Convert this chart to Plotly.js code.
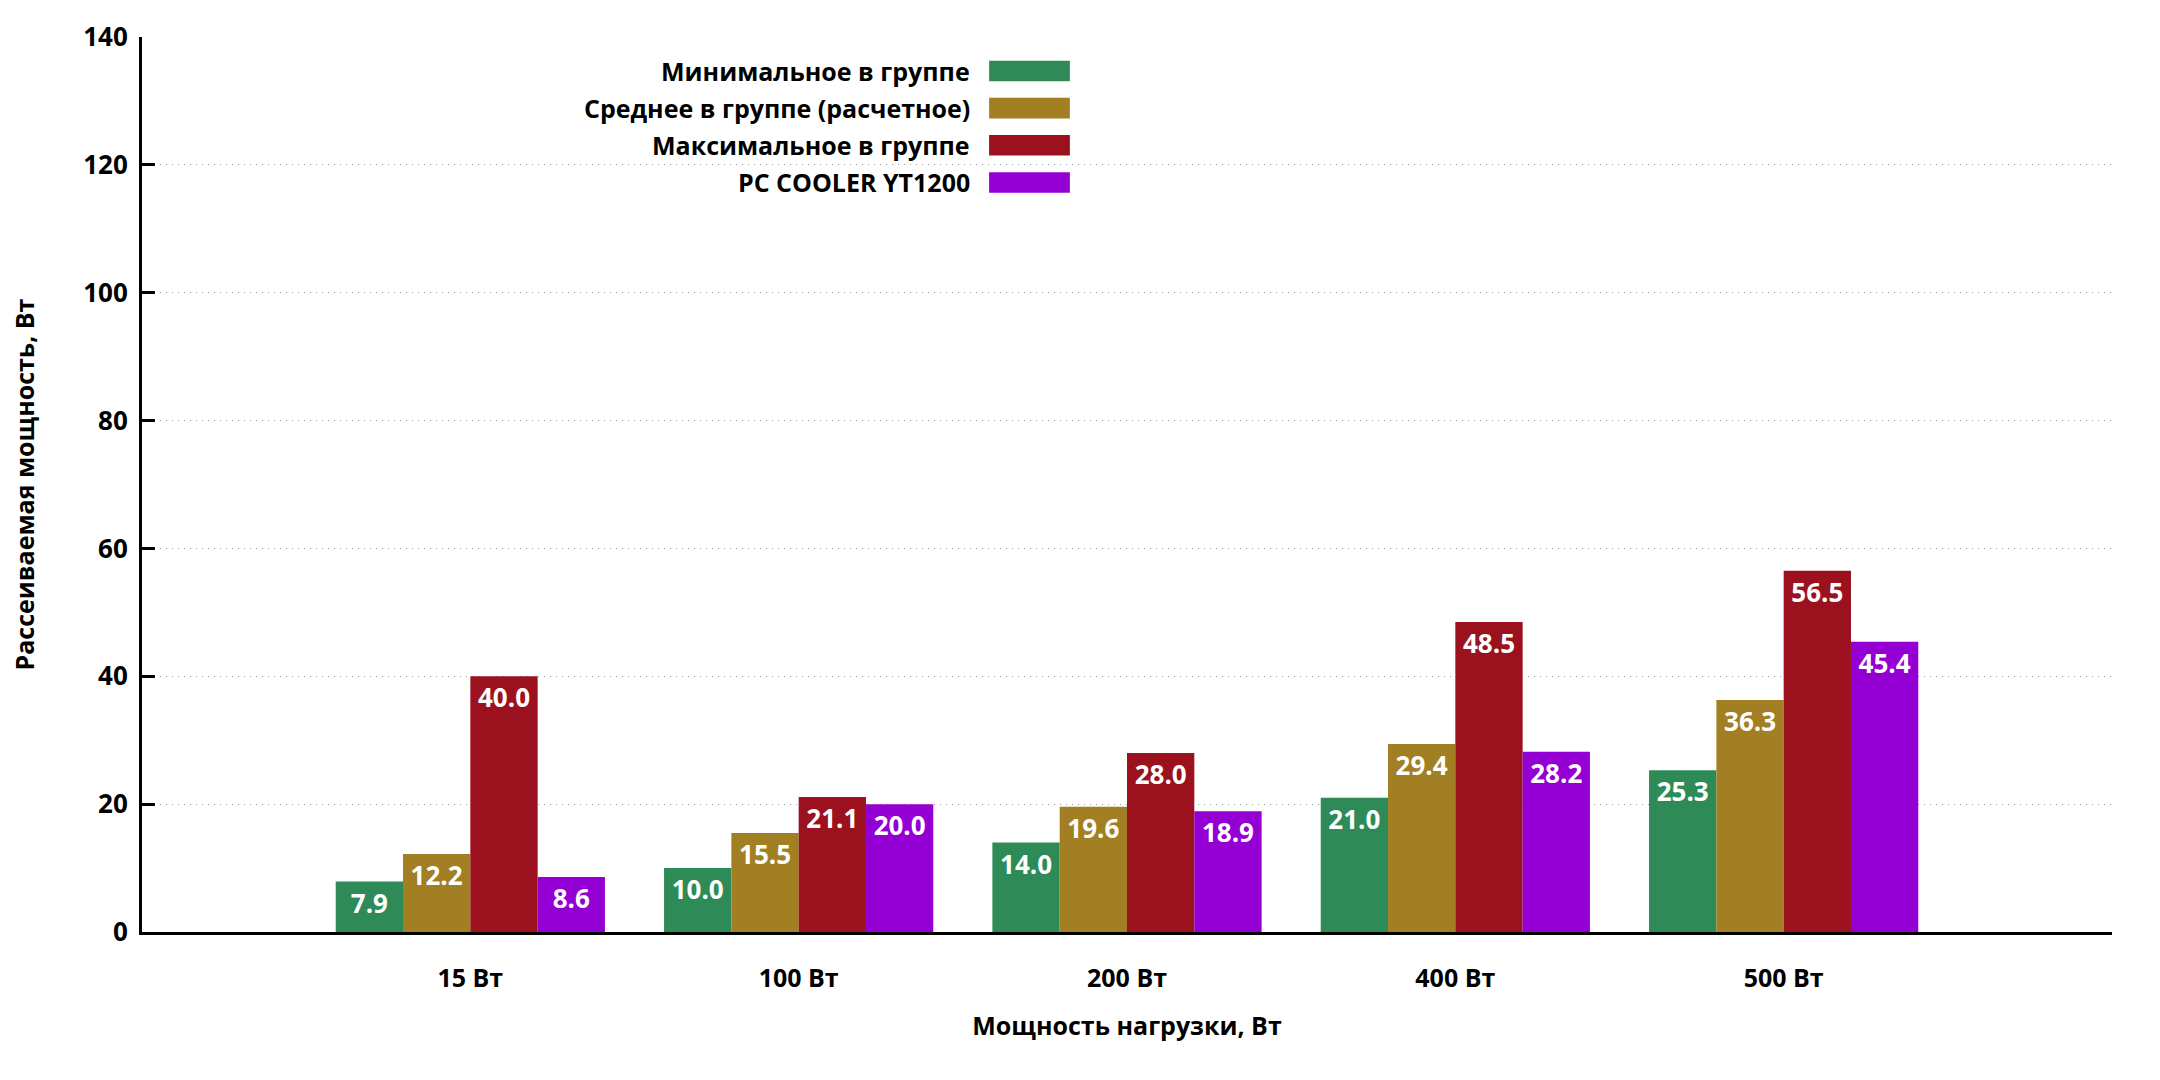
<!DOCTYPE html>
<html>
<head>
<meta charset="utf-8">
<script src="https://cdn.plot.ly/plotly-3.0.1.min.js"></script>
<style>
  html, body { margin: 0; padding: 0; background: #fff; }
  #chart { width: 2160px; height: 1080px; }
</style>
</head>
<body>
<div id="chart"></div>
<script>
const categories = ['15 Вт', '100 Вт', '200 Вт', '400 Вт', '500 Вт']

const seriesNames = ['Минимальное в группе', 'Среднее в группе (расчетное)', 'Максимальное в группе', 'PC COOLER YT1200']
const seriesColors = ['#2e8b57', '#a27f22', '#9b111e', '#9400d3']

const minValues = [7.9, 10.0, 14.0, 21.0, 25.3]
const avgValues = [12.2, 15.5, 19.6, 29.4, 36.3]
const maxValues = [40.0, 21.1, 28.0, 48.5, 56.5]
const coolerValues = [8.6, 20.0, 18.9, 28.2, 45.4]

const seriesValues = [minValues, avgValues, maxValues, coolerValues]

const fontFamily = '"Open Sans", "Noto Sans", "DejaVu Sans", sans-serif'

const traces = seriesValues.map((values, i) => ({
  type: 'bar',
  x: categories,
  y: values,
  name: seriesNames[i],
  marker: { color: seriesColors[i], line: { width: 0 } },
  texttemplate: '%{y:.1f}',
  textposition: 'inside',
  insidetextanchor: 'end',
  textangle: 0,
  textfont: { family: fontFamily, size: 26, color: '#ffffff', weight: 700 },
  hoverinfo: 'x+y+name',
  showlegend: false
}))

// custom legend: text right-aligned, swatch on the right
const shapes = []
const annotations = []
seriesNames.forEach((name, i) => {
  const yc = 0.962 - i * 0.0415
  shapes.push({
    type: 'rect',
    xref: 'paper',
    yref: 'paper',
    x0: 0.430,
    x1: 0.471,
    y0: yc - 0.0115,
    y1: yc + 0.0115,
    fillcolor: seriesColors[i],
    line: { width: 0 }
  })
  annotations.push({
    xref: 'paper',
    yref: 'paper',
    x: 0.4215,
    y: yc,
    xanchor: 'right',
    yanchor: 'middle',
    text: name,
    showarrow: false,
    font: { family: fontFamily, size: 25, color: '#000', weight: 700 }
  })
})

const layout = {
  width: 2160,
  height: 1080,
  margin: { l: 142, r: 48, t: 37, b: 148 },
  paper_bgcolor: '#ffffff',
  plot_bgcolor: '#ffffff',
  font: { family: fontFamily, size: 25, color: '#000', weight: 700 },
  barmode: 'group',
  bargap: 0.18,
  bargroupgap: 0,
  showlegend: false,
  xaxis: {
    type: 'category',
    range: [-1, 5],
    showgrid: false,
    zeroline: false,
    showline: true,
    linecolor: '#000',
    linewidth: 3,
    ticks: '',
    ticklabelstandoff: 22,
    tickfont: { family: fontFamily, size: 25, color: '#000', weight: 700 },
    title: {
      text: 'Мощность нагрузки, Вт',
      standoff: 25,
      font: { family: fontFamily, size: 25, color: '#000', weight: 700 }
    }
  },
  yaxis: {
    range: [0, 140],
    dtick: 20,
    tick0: 0,
    showline: true,
    linecolor: '#000',
    linewidth: 3,
    ticks: 'inside',
    ticklen: 13,
    tickwidth: 3,
    tickcolor: '#000',
    ticklabelstandoff: 6,
    showgrid: true,
    gridcolor: '#9a9a9a',
    gridwidth: 1,
    griddash: '1px,5px',
    zeroline: false,
    tickfont: { family: fontFamily, size: 26, color: '#000', weight: 700 },
    title: {
      text: 'Рассеиваемая мощность, Вт',
      standoff: 42,
      font: { family: fontFamily, size: 25, color: '#000', weight: 700 }
    }
  },
  shapes: shapes,
  annotations: annotations
}

Plotly.newPlot('chart', traces, layout, { displayModeBar: false, staticPlot: true })
</script>
</body>
</html>
